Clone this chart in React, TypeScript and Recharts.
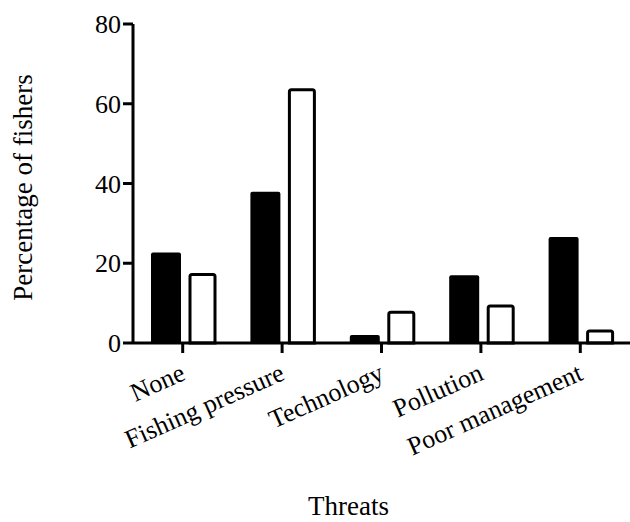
import { BarChart, Bar, XAxis, YAxis, Label } from "recharts";

const categories = ["None", "Fishing pressure", "Technology", "Pollution", "Poor management"];
const filledValues = [22.7, 37.9, 2.0, 17.0, 26.6];
const openValues = [17.2, 63.5, 7.7, 9.3, 3.0];
const yTicks = [0, 20, 40, 60, 80];

const data = categories.map((name, i) => ({ name, filled: filledValues[i], open: openValues[i] }));

const FONT = "Liberation Serif, DejaVu Serif";

function CatTick({ x, y, payload }: any) {
  return (
    <g transform={`translate(${x},${y})`}>
      <text
        transform="translate(4,24) rotate(-24)"
        textAnchor="end"
        style={{ fontSize: 26, fontFamily: FONT, fill: "#000" }}
      >
        {payload.value}
      </text>
    </g>
  );
}

export default function App() {
  return (
    <div style={{ position: "absolute", left: 0, top: 0, background: "#fff", fontFamily: FONT }}>
      <BarChart
        width={630}
        height={522}
        data={data}
        margin={{ top: 24, right: 0, left: 0, bottom: 0 }}
        barGap={9}
        style={{ fontFamily: FONT }}
      >
        <XAxis
          dataKey="name"
          height={179}
          interval={0}
          tick={<CatTick />}
          tickSize={10}
          axisLine={{ stroke: "#000", strokeWidth: 3 }}
          tickLine={{ stroke: "#000", strokeWidth: 3 }}
        >
          <Label
            value="Threats"
            position="insideBottom"
            offset={7}
            dx={-33}
            style={{ fontSize: 27, fontFamily: FONT, fill: "#000" }}
          />
        </XAxis>
        <YAxis
          width={133}
          domain={[0, 80]}
          ticks={yTicks}
          tickSize={10}
          tick={{ fontSize: 26, fontFamily: FONT, fill: "#000" }}
          axisLine={{ stroke: "#000", strokeWidth: 3 }}
          tickLine={{ stroke: "#000", strokeWidth: 3 }}
        >
          <Label
            value="Percentage of fishers"
            angle={-90}
            position="center"
            dx={-44}
            dy={4}
            style={{ fontSize: 27, fontFamily: FONT, fill: "#000", textAnchor: "middle" }}
          />
        </YAxis>
        <Bar dataKey="filled" barSize={30} fill="#000" radius={[2, 2, 0, 0]} isAnimationActive={false} />
        <Bar
          dataKey="open"
          barSize={25}
          fill="#fff"
          stroke="#000"
          strokeWidth={3}
          radius={[2, 2, 0, 0]}
          isAnimationActive={false}
        />
      </BarChart>
    </div>
  );
}
